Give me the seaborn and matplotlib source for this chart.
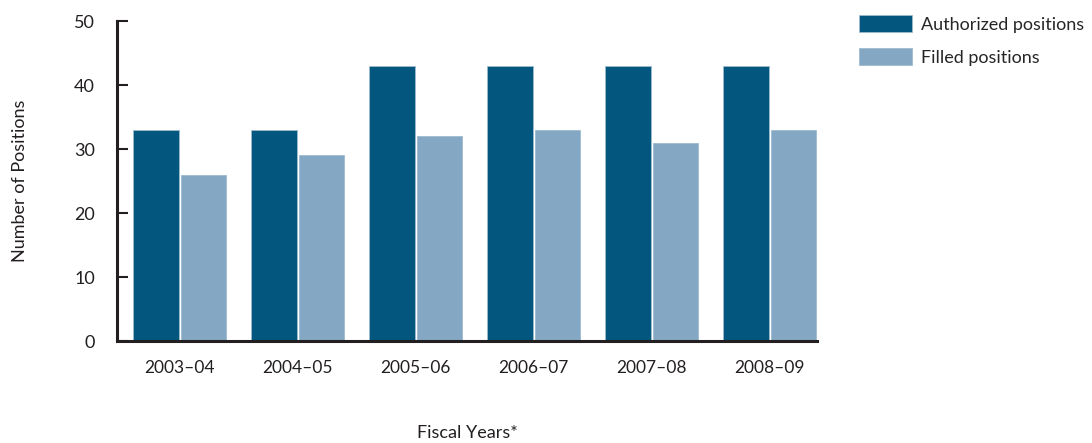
import matplotlib
matplotlib.use("Agg")
import matplotlib.pyplot as plt
import seaborn as sns
import pandas as pd

fiscal_years = ["2003\u201304", "2004\u201305", "2005\u201306", "2006\u201307", "2007\u201308", "2008\u201309"]
authorized = [33, 33, 43, 43, 43, 43]
filled = [26, 29, 32, 33, 31, 33]
series_names = ["Authorized positions", "Filled positions"]
y_ticks = [0, 10, 20, 30, 40, 50]

df = pd.DataFrame({
    "year": fiscal_years * 2,
    "value": authorized + filled,
    "series": [series_names[0]] * len(fiscal_years) + [series_names[1]] * len(fiscal_years),
})

sns.set_theme(style="white")
plt.rcParams["font.family"] = ["Lato", "DejaVu Sans"]

colors = {series_names[0]: "#03567D", series_names[1]: "#84A7C3"}

fig = plt.figure(figsize=(10.92, 4.43), dpi=100)
ax = fig.add_axes([117 / 1092, 1 - 341 / 443, (817 - 117) / 1092, 320 / 443])

sns.barplot(data=df, x="year", y="value", hue="series", palette=colors,
            width=0.8, gap=0.03, saturation=1, ax=ax, legend=True,
            edgecolor="#9DBBD0", linewidth=0.6)

ax.set_ylim(0, 50)
ax.set_xlim(-0.533, 5.4)
ax.set_yticks(y_ticks)
ax.set_yticklabels([str(t) for t in y_ticks], fontsize=13, color="#231F20")
ax.tick_params(axis="y", left=True, direction="in", length=8, width=1.5,
               color="#231F20", pad=16)
ax.tick_params(axis="x", bottom=False, length=0, pad=14, labelsize=12.5, labelcolor="#231F20")

for side in ["top", "right"]:
    ax.spines[side].set_visible(False)
for side in ["left", "bottom"]:
    ax.spines[side].set_color("#231F20")
    ax.spines[side].set_linewidth(2.2)

ax.set_xlabel("Fiscal Years*", fontsize=13, color="#231F20")
ax.set_ylabel("Number of Positions", fontsize=13, color="#231F20")
ax.yaxis.set_label_coords(-0.127, 0.5)
ax.xaxis.set_label_coords(0.5, -0.262)

handles, labels = ax.get_legend_handles_labels()
ax.legend(handles, labels, loc="upper left", bbox_to_anchor=(859 / 1092, 1 - 15 / 443),
          bbox_transform=fig.transFigure, frameon=False, fontsize=13,
          handlelength=2.95, handleheight=1.1, labelspacing=0.85, handletextpad=0.5,
          borderpad=0, borderaxespad=0)

fig.savefig("out.png", dpi=100)
